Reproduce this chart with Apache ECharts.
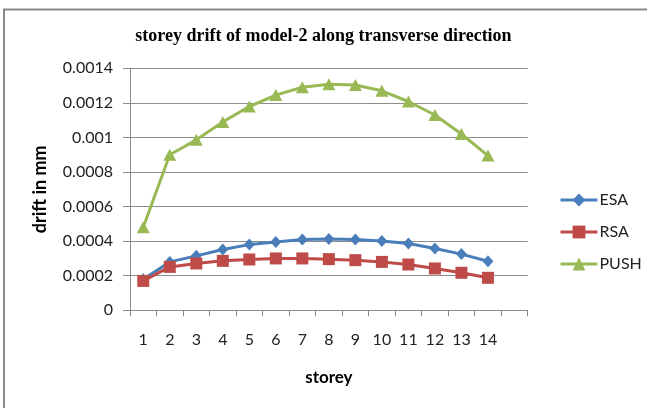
<!DOCTYPE html>
<html>
<head>
<meta charset="utf-8">
<script src="https://cdn.jsdelivr.net/npm/echarts@6/dist/echarts.min.js"></script>
<style>
  html, body { margin: 0; padding: 0; background: #fff; }
  #chart { width: 647px; height: 408px; }
</style>
</head>
<body>
<div id="chart"></div>
<script>
// Storey numbers; the trailing blank slot leaves room after storey 14.
const storeys = ['1','2','3','4','5','6','7','8','9','10','11','12','13','14',''];

// Storey drift (mm) for each analysis method
const esa  = [0.00018, 0.00028, 0.000315, 0.000352, 0.00038, 0.000395, 0.000409, 0.000413, 0.000409, 0.000401, 0.000386, 0.000357, 0.000325, 0.000284];
const rsa  = [0.00017, 0.000251, 0.000271, 0.000286, 0.000294, 0.0003, 0.0003, 0.000296, 0.00029, 0.00028, 0.000265, 0.000242, 0.000217, 0.000188];
const push = [0.00048, 0.0009, 0.000986, 0.00109, 0.001179, 0.001245, 0.00129, 0.001308, 0.001303, 0.00127, 0.001208, 0.00113, 0.00102, 0.000895];

const yTickLabels = ['0', '0.0002', '0.0004', '0.0006', '0.0008', '0.001', '0.0012', '0.0014'];
const yStep = 0.0002;

const chart = echarts.init(document.getElementById('chart'));
const labelFont = 'Lato, "Open Sans", sans-serif';
const gridGray = '#8c8c8c';

chart.setOption({
  animation: false,
  backgroundColor: '#fff',
  title: {
    text: 'storey drift of model-2 along transverse direction',
    left: 'center',
    top: 22,
    textStyle: { fontFamily: '"Liberation Serif", serif', fontWeight: 'bold', fontSize: 18, color: '#000' }
  },
  graphic: [{
    type: 'rect',
    shape: { x: 4, y: 9.5, width: 700, height: 500 },
    style: { fill: 'none', stroke: '#8a8a8a', lineWidth: 2 },
    silent: true
  }],
  legend: {
    orient: 'vertical',
    left: 554,
    top: 187,
    itemWidth: 37,
    itemHeight: 16,
    itemGap: 16,
    lineStyle: { width: 3 },
    textStyle: { fontFamily: labelFont, fontSize: 16, lineHeight: 16, color: '#222', padding: [0, 0, 0, -3] },
    data: ['ESA', 'RSA', 'PUSH']
  },
  grid: { left: 130, top: 68.3, right: 119.3, bottom: 97.7, containLabel: false },
  xAxis: {
    type: 'category',
    data: storeys,
    boundaryGap: true,
    name: 'storey',
    nameLocation: 'middle',
    nameGap: 59,
    nameTextStyle: { fontFamily: labelFont, fontWeight: 'bold', fontSize: 17, color: '#000' },
    axisLine: { lineStyle: { color: gridGray, width: 1 } },
    axisTick: { show: true, interval: 0, length: 6, lineStyle: { color: gridGray } },
    axisLabel: { interval: 0, margin: 22, fontFamily: labelFont, fontSize: 16, color: '#222' },
    splitLine: { show: false }
  },
  yAxis: {
    type: 'value',
    min: 0,
    max: 0.0014,
    interval: yStep,
    name: 'drift in mm',
    nameLocation: 'middle',
    nameGap: 81,
    nameTextStyle: { fontFamily: labelFont, fontWeight: 'bold', fontSize: 18, color: '#000' },
    axisLine: { show: true, lineStyle: { color: gridGray, width: 1 } },
    axisTick: { show: true, length: 7, lineStyle: { color: gridGray } },
    axisLabel: {
      margin: 17,
      fontFamily: labelFont, fontSize: 16, color: '#222',
      formatter: v => yTickLabels[Math.round(v / yStep)]
    },
    splitLine: { show: true, lineStyle: { color: gridGray, width: 1 } }
  },
  series: [
    {
      name: 'ESA', type: 'line', data: esa,
      symbol: 'diamond', symbolSize: [11, 12],
      lineStyle: { width: 3, color: '#4A7EBB' },
      itemStyle: { color: '#4A7EBB' }
    },
    {
      name: 'RSA', type: 'line', data: rsa,
      symbol: 'rect', symbolSize: 12,
      lineStyle: { width: 3, color: '#BE4B48' },
      itemStyle: { color: '#BE4B48' }
    },
    {
      name: 'PUSH', type: 'line', data: push,
      symbol: 'triangle', symbolSize: [13, 12],
      lineStyle: { width: 3, color: '#98B954' },
      itemStyle: { color: '#98B954' }
    }
  ]
});
</script>
</body>
</html>
